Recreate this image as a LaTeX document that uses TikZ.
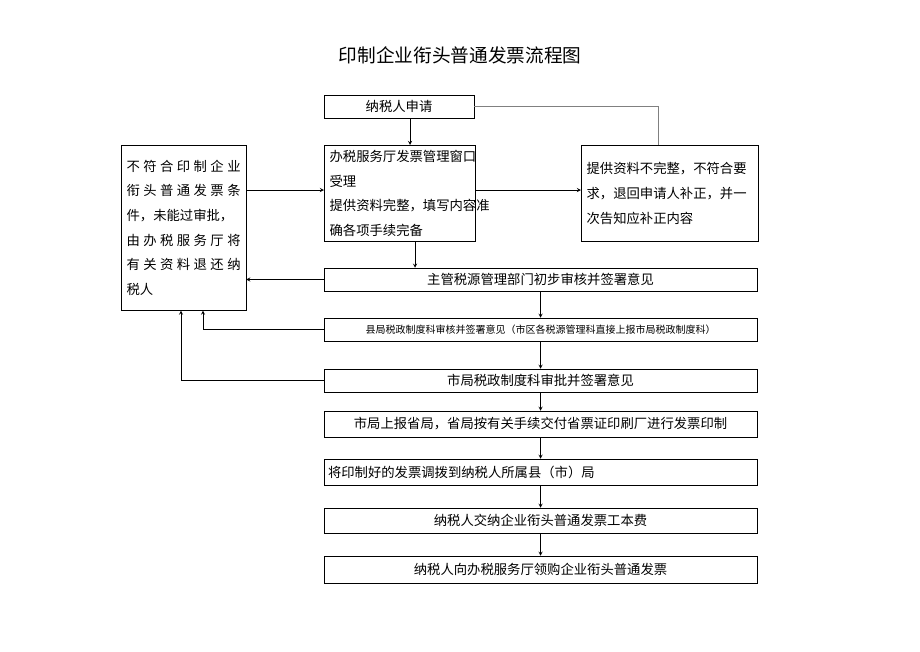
\documentclass[tikz,border=0pt]{standalone}
\usepackage{fontspec}
\setmainfont{Noto Sans CJK SC}
\usetikzlibrary{positioning}
\tikzset{
  stepbox/.style={draw, thin, inner sep=0pt, font=\fontsize{10}{12}\selectfont},
  para/.style={draw, thin, inner xsep=4pt, inner ysep=1.5pt, align=left, anchor=north west,
    font=\fontsize{10}{18.5}\selectfont},
  flow/.style={->, >=stealth, thin},
}
\begin{document}
\begin{tikzpicture}[x=0.75pt, y=-0.75pt]
  \useasboundingbox (0,0) rectangle (920,651);
  % title
  \node (title) at (460,55) {\fontsize{14}{16}\selectfont 印制企业衔头普通发票流程图};
  % boxes
  \node[stepbox, minimum width=150*0.75pt, minimum height=23*0.75pt] (apply) at (399,106.5) {纳税人申请};
  \node[para, text width=140*0.75pt, minimum height=96*0.75pt] (window) at (324,145)
    {办税服务厅发票管理窗口\\受理\\提供资料完整，填写内容准\\确各项手续完备};
  \node[para, text width=166*0.75pt, minimum height=96*0.75pt] (back) at (581,145)
    {提供资料不完整，不符合要\\求，退回申请人补正，并一\\次告知应补正内容};
  \node[para, text width=114*0.75pt, minimum height=165*0.75pt] (refuse) at (121,145)
    {不\hfill 符\hfill 合\hfill 印\hfill 制\hfill 企\hfill 业\\衔\hfill 头\hfill 普\hfill 通\hfill 发\hfill 票\hfill 条\\件，未能过审批，\\由\hfill 办\hfill 税\hfill 服\hfill 务\hfill 厅\hfill 将\\有\hfill 关\hfill 资\hfill 料\hfill 退\hfill 还\hfill 纳\\税人};
  \foreach \n/\y/\h/\t in {
      review/279.5/23/主管税源管理部门初步审核并签署意见,
      city/380.5/23/市局税政制度科审批并签署意见,
      report/424/26/市局上报省局，省局按有关手续交付省票证印刷厂进行发票印制,
      fee/520.5/25/纳税人交纳企业衔头普通发票工本费,
      buy/569.5/27/纳税人向办税服务厅领购企业衔头普通发票}
    \node[stepbox, minimum width=433*0.75pt, minimum height=\h*0.75pt] (\n) at (540.5,\y) {\t};
  \node[stepbox, minimum width=433*0.75pt, minimum height=23*0.75pt] (county) at (540.5,329.5)
    {\fontsize{7.5}{9}\selectfont 县局税政制度科审核并签署意见（市区各税源管理科直接上报市局税政制度科）};
  \node[stepbox, minimum width=433*0.75pt, minimum height=26*0.75pt, text width=425*0.75pt, align=left]
    (alloc) at (540.5,472) {将印制好的发票调拨到纳税人所属县（市）局};
  % connectors
  \draw[flow] (apply.south -| 410,0) -- (window.north -| 410,0);
  \draw[flow] (refuse.east |- 0,190) -- (window.west |- 0,190);
  \draw[flow] (window.east |- 0,190) -- (back.west |- 0,190);
  \draw[gray] (back.north -| 658,0) |- (apply.east);
  \draw[flow] (window.south -| 415,0) -- (review.north -| 415,0);
  \draw[flow] (review.west) -- (refuse.east |- review.west);
  \draw[flow] (county.west) -| (refuse.south -| 203,0);
  \draw[flow] (city.west) -| (refuse.south -| 181,0);
  \draw[flow] (review) -- (county);
  \draw[flow] (county) -- (city);
  \draw[flow] (city) -- (report);
  \draw[flow] (report) -- (alloc);
  \draw[flow] (alloc) -- (fee);
  \draw[flow] (fee) -- (buy);
\end{tikzpicture}
\end{document}
